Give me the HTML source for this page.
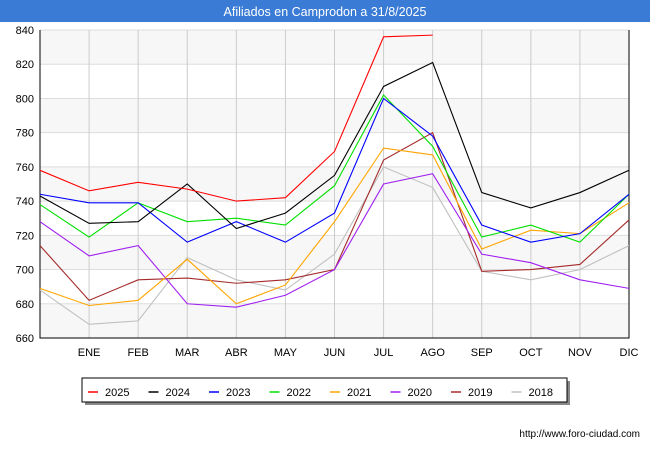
<!DOCTYPE html>
<html><head><meta charset="utf-8"><style>
body{margin:0;width:650px;height:450px;background:#fff;font-family:"Liberation Sans",sans-serif;overflow:hidden}
</style></head><body>
<svg width="650" height="450" xmlns="http://www.w3.org/2000/svg">
<rect x="0" y="0" width="650" height="22" fill="#3a7bd5"/>
<text x="325" y="16" text-anchor="middle" fill="#fff" font-size="12.5">Afiliados en Camprodon a 31/8/2025</text>
<g id="plot"></g>
<g id="legend"></g>
<text x="640" y="437" text-anchor="end" font-size="10" fill="#000">http://www.foro-ciudad.com</text>
</svg>
<script>
const months=["","ENE","FEB","MAR","ABR","MAY","JUN","JUL","AGO","SEP","OCT","NOV","DIC"];
const yTicks=[660,680,700,720,740,760,780,800,820,840];
const seriesNames=["2025","2024","2023","2022","2021","2020","2019","2018"];
const seriesColors=["#ff0000","#000000","#0000ff","#00e000","#ffa500","#a020f0","#a52a2a","#c0c0c0"];
const s2025=[758,746,751,747,740,742,769,836,837];
const s2024=[743,727,728,750,724,733,755,807,821,745,736,745,758];
const s2023=[744,739,739,716,728,716,733,800,778,726,716,721,744];
const s2022=[738,719,739,728,730,726,749,802,772,719,726,716,744];
const s2021=[689,679,682,706,680,691,728,771,767,712,723,721,739];
const s2020=[728,708,714,680,678,685,700,750,756,709,704,694,689];
const s2019=[714,682,694,695,692,694,700,764,780,699,700,703,729];
const s2018=[688,668,670,707,694,688,709,760,748,699,694,700,714];
const allSeries=[s2025,s2024,s2023,s2022,s2021,s2020,s2019,s2018];
const NS="http://www.w3.org/2000/svg";
const L=40,R=629,T=30,B=338;
const x=i=>L+(R-L)*i/12;
const y=v=>B-(v-660)/(180)*(B-T);
const plot=document.getElementById('plot');
function mk(t,a,p){const e=document.createElementNS(NS,t);for(const k in a)e.setAttribute(k,a[k]);(p||plot).appendChild(e);return e;}
for(let i=0;i<9;i++){const r=mk('rect',{x:L,y:y(yTicks[i+1]),width:R-L,height:y(yTicks[i])-y(yTicks[i+1]),fill:i%2?'#fff':'#f7f7f7'});

}
yTicks.forEach(v=>{const g=mk('line',{x1:L,x2:R,y1:y(v),y2:y(v),stroke:'#ddd'});


const t=mk('text',{x:L-6,y:y(v)+4,'text-anchor':'end','font-size':'11',fill:'#000'});t.textContent=v;

});
months.forEach((m,i)=>{if(i==0)return;const g=mk('line',{x1:x(i),x2:x(i),y1:T,y2:B,stroke:'#ccc'});


const t=mk('text',{x:x(i),y:B+18,'text-anchor':'middle','font-size':'11',fill:'#000'});t.textContent=m;

});
const ax=mk('path',{d:`M${L},${T} V${B} H${R} V${T}`,fill:'none',stroke:'#000'});


for(let s=allSeries.length-1;s>=0;s--){const d=allSeries[s].map((v,i)=>(i?'L':'M')+x(i)+','+y(v)).join(' ');
const p=mk('path',{d,fill:'none',stroke:seriesColors[s],'stroke-width':1.1});

}
const lg=document.getElementById('legend');
mk('rect',{x:85,y:381,width:485,height:24,fill:'#888'},lg);
const box=mk('rect',{x:82,y:378,width:485,height:24,fill:'#fff',stroke:'#000'},lg);


seriesNames.forEach((n,i)=>{const lx=88+i*60.5;
const g=mk('g',{},lg);


mk('line',{x1:lx,x2:lx+10,y1:392,y2:392,stroke:seriesColors[i],'stroke-width':1.5},g);
const t=mk('text',{x:lx+17,y:396,'font-size':'11',fill:'#000'},g);t.textContent=n;});
</script>
</body></html>
